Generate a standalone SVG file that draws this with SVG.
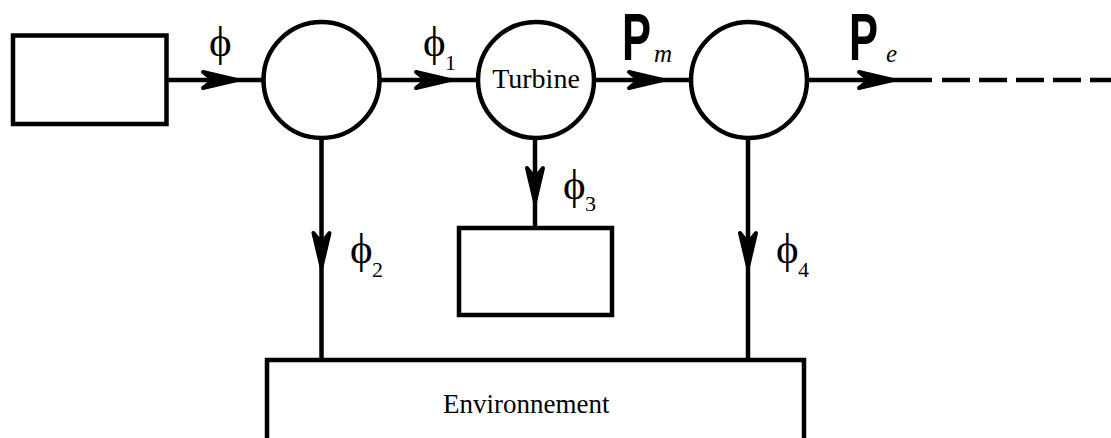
<svg xmlns="http://www.w3.org/2000/svg" width="1111" height="438" viewBox="0 0 1111 438">
<style>
.box{fill:#fff;stroke:#000;stroke-width:4.5}
.ln{fill:none;stroke:#000;stroke-width:4.5}
.ah{fill:#000;stroke:#000;stroke-width:4;stroke-linejoin:round}
.sym{font-family:"Liberation Serif","Times New Roman",serif;fill:#000}
.lbl{font-family:"Liberation Serif","Times New Roman",serif;fill:#000}
.P{font-family:"Liberation Sans",Arial,sans-serif;font-weight:bold;fill:#000}
.it{font-family:"Liberation Serif","Times New Roman",serif;font-style:italic;fill:#000}
</style>
<defs>
<path id="arr" class="ah" d="M-34,-8 L0,0 L-34,8 L-24,0 Z"/>
</defs>
<g id="connectors">
<line class="ln" x1="167" y1="80" x2="264" y2="80"/>
<line class="ln" x1="379" y1="80" x2="478" y2="80"/>
<line class="ln" x1="594" y1="80" x2="691" y2="80"/>
<line class="ln" x1="807" y1="80" x2="932" y2="80"/>
<line class="ln" x1="942" y1="80" x2="1111" y2="80" stroke-dasharray="28,9"/>
<line class="ln" x1="321.5" y1="138" x2="321.5" y2="360"/>
<line class="ln" x1="535" y1="138" x2="535" y2="228"/>
<line class="ln" x1="748" y1="138" x2="748" y2="360"/>
<use href="#arr" transform="translate(237,80)"/>
<use href="#arr" transform="translate(450,80)"/>
<use href="#arr" transform="translate(663,80)"/>
<use href="#arr" transform="translate(893,80)"/>
<use href="#arr" transform="translate(321.5,267) rotate(90)"/>
<use href="#arr" transform="translate(535,202) rotate(90)"/>
<use href="#arr" transform="translate(748,267) rotate(90)"/>
</g>
<g id="source"><rect class="box" x="13" y="35.5" width="153.5" height="88.5"/></g>
<g id="node1"><circle class="box" cx="321.5" cy="80" r="58"/></g>
<g id="turbine"><circle class="box" cx="536" cy="80" r="58"/>
<text class="lbl" x="536" y="88" font-size="28" text-anchor="middle">Turbine</text></g>
<g id="node3"><circle class="box" cx="749" cy="80" r="58"/></g>
<g id="loss3"><rect class="box" x="459" y="228" width="153" height="87"/></g>
<g id="environment"><rect class="box" x="267" y="360" width="537" height="100"/>
<text class="lbl" x="443" y="413" font-size="27">Environnement</text></g>
<g id="labels">
<text class="sym" x="209" y="56" font-size="43">ϕ</text>
<text class="sym" x="423" y="56" font-size="43">ϕ</text><text class="sym" x="445" y="70" font-size="22">1</text>
<text class="sym" x="350" y="263" font-size="43">ϕ</text><text class="sym" x="372" y="277" font-size="22">2</text>
<text class="sym" x="563" y="199" font-size="43">ϕ</text><text class="sym" x="585" y="211" font-size="22">3</text>
<text class="sym" x="776" y="263" font-size="43">ϕ</text><text class="sym" x="798" y="277" font-size="22">4</text>
<text class="P" font-size="67" transform="translate(622,60) scale(0.65,1)">P</text>
<text class="it" x="654" y="62" font-size="25">m</text>
<text class="P" font-size="67" transform="translate(849,60) scale(0.65,1)">P</text>
<text class="it" x="886" y="62" font-size="25">e</text>
</g>
</svg>
